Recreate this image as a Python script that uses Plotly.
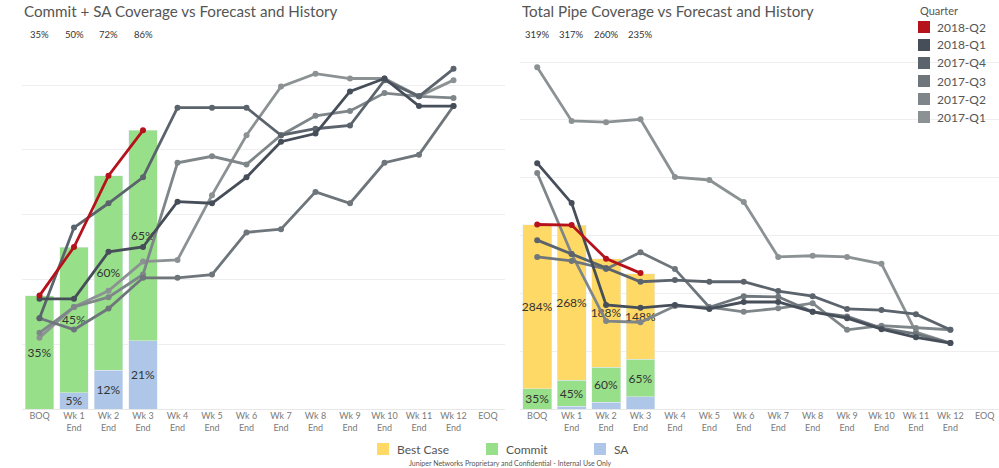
import plotly.graph_objects as go

W, H = 999, 468

categories = ["BOQ", "Wk 1<br>End", "Wk 2<br>End", "Wk 3<br>End", "Wk 4<br>End", "Wk 5<br>End",
              "Wk 6<br>End", "Wk 7<br>End", "Wk 8<br>End", "Wk 9<br>End", "Wk 10<br>End",
              "Wk 11<br>End", "Wk 12<br>End", "EOQ"]

# current quarter bars (percent)
sa_pct = [0, 5, 12, 21]
commit_pct = [35, 45, 60, 65]
best_case_pct = [284, 268, 188, 148]
commit_sa_totals = ["35%", "50%", "72%", "86%"]
pipe_totals = ["319%", "317%", "260%", "235%"]

quarters = ["2017-Q1", "2017-Q2", "2017-Q3", "2017-Q4", "2018-Q1", "2018-Q2"]
quarter_colors = {"2018-Q2": "#b5121b", "2018-Q1": "#464e59", "2017-Q4": "#5b636c",
                  "2017-Q3": "#6e767c", "2017-Q2": "#7f8689", "2017-Q1": "#8c9294"}

# Commit + SA coverage history (percent)
commit_sa_hist = {
    "2017-Q1": [22, 31.5, 36.5, 45.5, 46, 66, 84.5, 99.5, 103.5, 102, 102, 96.5, 101.5],
    "2017-Q2": [23.5, 31.5, 34.5, 41.5, 76, 78, 75.5, 84.5, 90.5, 92, 97.5, 96.5, 96],
    "2017-Q3": [28, 24.5, 31, 40.5, 40.5, 41.5, 54.5, 55.5, 67, 63.5, 76, 78.5, 93.5],
    "2017-Q4": [28, 56, 63.5, 71.5, 93, 93, 93, 84.5, 86.5, 87.5, 101.5, 96.5, 105],
    "2018-Q1": [34, 34, 48.5, 50, 64, 63.5, 71.5, 82.5, 85, 98, 102, 93.5, 93.5],
    "2018-Q2": [35, 50, 72, 86],
}

# Total pipe coverage history (percent)
pipe_hist = {
    "2017-Q1": [591, 498, 496, 501, 401, 396, 358, 263, 265, 263, 251, 133, 114],
    "2017-Q2": [408, 268, 152, 150, 178, 176, 168, 174, 183, 137, 144, 140, 137],
    "2017-Q3": [263, 256, 242, 271, 242, 176, 195, 194, 168, 160, 140, 130, 114],
    "2017-Q4": [292, 268, 244, 220, 223, 220, 220, 204, 195, 173, 171, 164, 137],
    "2018-Q1": [425, 356, 180, 175, 180, 173, 185, 185, 168, 157, 138, 124, 114],
    "2018-Q2": [319, 318, 260, 235],
}

left_grid = [20, 40, 60, 80, 100]
right_grid = [100, 200, 300, 400, 500, 600]

footer_text = "Juniper Networks Proprietary and Confidential - Internal Use Only"

C_BEST = "#ffd966"
C_COMMIT = "#98df8a"
C_SA = "#aec7e8"
FONT = "Lato"

def px(x):
    return x / W

def py(y):
    return 1 - y / H

fig = go.Figure()

n4 = list(range(4))
bar_txt = dict(textposition="inside", insidetextanchor="middle", textangle=0,
               textfont=dict(size=12, color="#333", family=FONT), hoverinfo="skip", showlegend=False)
# ---- left bars
fig.add_trace(go.Bar(x=n4, y=sa_pct, marker_color=C_SA, width=0.84, xaxis="x", yaxis="y",
                     text=[f"{v}%" if v else "" for v in sa_pct], **bar_txt))
fig.add_trace(go.Bar(x=n4, y=commit_pct, marker_color=C_COMMIT, width=0.84, xaxis="x", yaxis="y",
                     text=[f"{v}%" for v in commit_pct], **bar_txt))
# ---- right bars
fig.add_trace(go.Bar(x=n4, y=sa_pct, marker_color=C_SA, width=0.84, xaxis="x2", yaxis="y2",
                     hoverinfo="skip", showlegend=False))
fig.add_trace(go.Bar(x=n4, y=commit_pct, marker_color=C_COMMIT, width=0.84, xaxis="x2", yaxis="y2",
                     text=[f"{v}%" for v in commit_pct], **bar_txt))
fig.add_trace(go.Bar(x=n4, y=best_case_pct, marker_color=C_BEST, width=0.84, xaxis="x2", yaxis="y2",
                     text=[f"{v}%" for v in best_case_pct], **bar_txt))

# ---- lines
for q in quarters:
    vals = commit_sa_hist[q]
    fig.add_trace(go.Scatter(x=list(range(len(vals))), y=vals, mode="lines+markers",
                             line=dict(color=quarter_colors[q], width=2.8),
                             marker=dict(color=quarter_colors[q], size=6),
                             xaxis="x", yaxis="y", hoverinfo="skip", showlegend=False))
for q in quarters:
    vals = pipe_hist[q]
    fig.add_trace(go.Scatter(x=list(range(len(vals))), y=vals, mode="lines+markers",
                             line=dict(color=quarter_colors[q], width=2.8),
                             marker=dict(color=quarter_colors[q], size=6),
                             xaxis="x2", yaxis="y2", hoverinfo="skip", showlegend=False))

base_y, top_y = 409, 45
left_scale = 3.24
right_scale = 347 / 600
ydom = [py(base_y), py(top_y)]

xcommon = dict(tickmode="array", tickvals=list(range(14)), ticktext=categories,
               tickfont=dict(size=9, color="#7a7a7a", family=FONT), showgrid=False,
               zeroline=False, showline=False, ticks="", fixedrange=True)
ycommon = dict(showticklabels=False, gridcolor="#eeeeee", gridwidth=1, zeroline=True,
               zerolinecolor="#e8e8e8", zerolinewidth=1, ticks="", showline=False, fixedrange=True)

fig.update_layout(
    width=W, height=H, margin=dict(l=0, r=0, t=0, b=0),
    paper_bgcolor="white", plot_bgcolor="white",
    barmode="stack", bargap=0.16,
    uniformtext=dict(minsize=12, mode="show"),
    font=dict(family=FONT, color="#555"),
    xaxis=dict(domain=[px(22.25), px(505.25)], range=[-0.5, 13.5], anchor="y", **xcommon),
    yaxis=dict(domain=ydom, range=[0, (base_y - top_y) / left_scale], anchor="x",
               tickvals=left_grid, **ycommon),
    xaxis2=dict(domain=[px(520), 1.0], range=[-0.5, 13.5 - 3 / 34.46], anchor="y2", **xcommon),
    yaxis2=dict(domain=ydom, range=[0, (base_y - top_y) / right_scale], anchor="x2",
                tickvals=right_grid, **ycommon),
)

ann = []
ann.append(dict(text="Commit + SA Coverage vs Forecast and History", x=px(22), y=py(11),
                xref="paper", yref="paper", xanchor="left", yanchor="middle", showarrow=False,
                font=dict(size=15.2, color="#555", family=FONT)))
ann.append(dict(text="Total Pipe Coverage vs Forecast and History", x=px(520), y=py(11),
                xref="paper", yref="paper", xanchor="left", yanchor="middle", showarrow=False,
                font=dict(size=15.2, color="#555", family=FONT)))
for i, t in enumerate(commit_sa_totals):
    ann.append(dict(text=t, x=i, xref="x", y=py(35), yref="paper", showarrow=False,
                    xanchor="center", yanchor="middle", font=dict(size=9.5, color="#333", family=FONT)))
for i, t in enumerate(pipe_totals):
    ann.append(dict(text=t, x=i, xref="x2", y=py(35), yref="paper", showarrow=False,
                    xanchor="center", yanchor="middle", font=dict(size=9.5, color="#333", family=FONT)))

# Quarter legend
shapes = []
ann.append(dict(text="Quarter", x=px(918), y=py(10), xref="paper", yref="paper", xanchor="left",
                yanchor="middle", showarrow=False, font=dict(size=11, color="#555", family=FONT)))
legend_order = ["2018-Q2", "2018-Q1", "2017-Q4", "2017-Q3", "2017-Q2", "2017-Q1"]
for k, q in enumerate(legend_order):
    yc = 27 + k * 18
    shapes.append(dict(type="rect", xref="paper", yref="paper", x0=px(918), x1=px(930),
                       y0=py(yc - 6), y1=py(yc + 6), fillcolor=quarter_colors[q], line=dict(width=0)))
    ann.append(dict(text=q, x=px(935), y=py(yc), xref="paper", yref="paper", xanchor="left",
                    yanchor="middle", showarrow=False, font=dict(size=12, color="#555", family=FONT)))

# Bar legend
for name, col, x0 in [("Best Case", C_BEST, 377), ("Commit", C_COMMIT, 486), ("SA", C_SA, 594)]:
    shapes.append(dict(type="rect", xref="paper", yref="paper", x0=px(x0), x1=px(x0 + 12),
                       y0=py(455), y1=py(443), fillcolor=col, line=dict(width=0)))
    ann.append(dict(text=name, x=px(x0 + 18), y=py(449), xref="paper", yref="paper", xanchor="left",
                    yanchor="middle", showarrow=False, font=dict(size=12, color="#555", family=FONT)))

# footer
ann.append(dict(text=footer_text, x=px(510), y=py(456.5), xref="paper", yref="paper",
                xanchor="center", yanchor="top", showarrow=False,
                font=dict(size=7, color="#555", family=FONT)))

fig.update_layout(annotations=ann, shapes=shapes)
fig.write_html("out.html", config={"displayModeBar": False},
               post_script="document.body.style.margin='0';document.body.style.overflow='hidden';")
